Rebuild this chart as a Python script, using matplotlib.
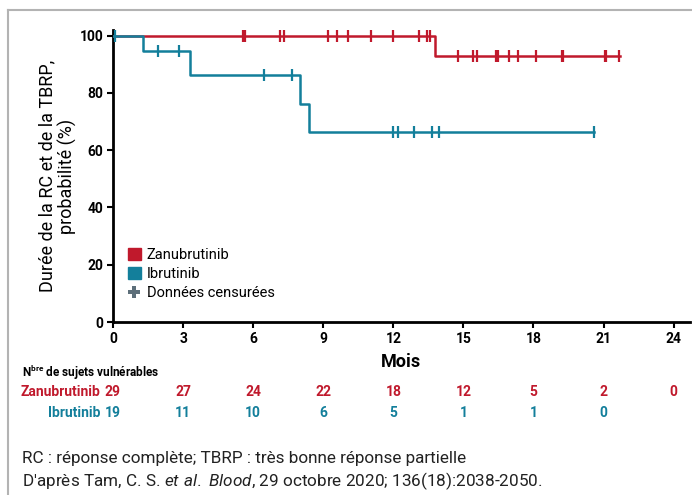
import numpy as np
import matplotlib
matplotlib.use("Agg")
import matplotlib.pyplot as plt
from matplotlib.lines import Line2D
from matplotlib.patches import Patch
from matplotlib.transforms import blended_transform_factory

plt.rcParams['font.family'] = ['Roboto', 'DejaVu Sans']
plt.rcParams['mathtext.fontset'] = 'custom'
plt.rcParams['mathtext.rm'] = 'Roboto'
plt.rcParams['mathtext.it'] = 'Roboto:italic'
plt.rcParams['mathtext.bf'] = 'Roboto:bold'

RED = '#c0192c'
TEAL = '#137f9b'
CENSOR_GREY = '#5d6f7a'

# Kaplan-Meier steps (month, probability %)
zanu_times = [0, 13.8, 21.7]
zanu_surv = [100, 93, 93]
ibru_times = [0, 1.3, 3.3, 8.0, 8.4, 20.6]
ibru_surv = [100, 94.7, 86.4, 76.1, 66.3, 66.3]

# censored observations (months)
zanu_censor = [5.55, 5.6, 5.65, 7.15, 7.3, 9.2, 9.6, 10.05, 11.05, 11.97, 13.1,
               13.45, 13.55, 14.75, 15.4, 15.57, 16.38, 16.5, 16.95, 17.33,
               18.09, 19.2, 19.27, 21.05, 21.12, 21.65]
ibru_censor = [0.1, 1.94, 2.82, 6.46, 7.67, 11.97, 12.18, 12.9, 13.65, 13.96, 20.58]

# number at risk
risk_months = [0, 3, 6, 9, 12, 15, 18, 21, 24]
zanu_risk = [29, 27, 24, 22, 18, 12, 5, 2, 0]
ibru_risk = [19, 11, 10, 6, 5, 1, 1, 0]

x_ticks = [0, 3, 6, 9, 12, 15, 18, 21, 24]
y_ticks = [0, 20, 40, 60, 80, 100]


def step_value(times, surv, t):
    idx = np.searchsorted(times, t, side='right') - 1
    return surv[idx]


fig = plt.figure(figsize=(6.92, 4.95), dpi=100)
W, H = 692, 495
ax = fig.add_axes([113 / W, 1 - 322 / H, (690 - 113) / W, (322 - 30) / H])

for times, surv, cens, col in [(zanu_times, zanu_surv, zanu_censor, RED),
                               (ibru_times, ibru_surv, ibru_censor, TEAL)]:
    ax.step(times, surv, where='post', color=col, lw=1.8, zorder=3)
    cy = [step_value(times, surv, t) for t in cens]
    ax.plot(cens, cy, ls='none', marker='|', ms=8, mew=1.6, color=col, zorder=4)

ax.set_xlim(0, 24.7)
ax.set_ylim(0, 102)
ax.set_xticks(x_ticks)
ax.set_yticks(y_ticks)
ax.tick_params(axis='both', length=4, width=1.5, labelsize=10, pad=3)
for lbl in ax.get_xticklabels() + ax.get_yticklabels():
    lbl.set_fontweight('bold')
for s in ['top', 'right']:
    ax.spines[s].set_visible(False)
for s in ['left', 'bottom']:
    ax.spines[s].set_linewidth(2)

ax.set_ylabel('Durée de la RC et de la TBRP,\nprobabilité (%)', fontsize=13, labelpad=2,
              linespacing=1.05)
ax.set_xlabel('Mois', fontsize=13, fontweight='bold', labelpad=5)

handles = [Patch(facecolor=RED, edgecolor=RED),
           Patch(facecolor=TEAL, edgecolor=TEAL),
           Line2D([], [], ls='none', marker='P', ms=9, color=CENSOR_GREY, mew=0)]
ax.legend(handles, ['Zanubrutinib', 'Ibrutinib', 'Données censurées'],
          loc='lower left', bbox_to_anchor=(0.0, 0.025), frameon=False,
          fontsize=10.5, handlelength=0.9, handleheight=0.9, handletextpad=0.4,
          labelspacing=0.35, borderaxespad=0.6)

# number at risk table
tr = blended_transform_factory(ax.transData, fig.transFigure)
fig.text(22 / W, 1 - 373 / H, r'N$^{\mathregular{bre}}$ de sujets vulnérables',
         fontsize=8.5, fontweight='bold', va='center', ha='left')
fig.text(100 / W, 1 - 392 / H, 'Zanubrutinib', color=RED, fontsize=10,
         fontweight='bold', va='center', ha='right')
fig.text(100 / W, 1 - 413 / H, 'Ibrutinib', color=TEAL, fontsize=10,
         fontweight='bold', va='center', ha='right')
for m, n in zip(risk_months, zanu_risk):
    ax.text(m, 1 - 392 / H, str(n), transform=tr, color=RED, fontsize=10,
            fontweight='bold', ha='center', va='center', clip_on=False)
for m, n in zip(risk_months, ibru_risk):
    ax.text(m, 1 - 413 / H, str(n), transform=tr, color=TEAL, fontsize=10,
            fontweight='bold', ha='center', va='center', clip_on=False)

# footnotes
fig.text(22 / W, 1 - 458 / H, 'RC : réponse complète; TBRP : très bonne réponse partielle',
         fontsize=12.3, va='center', ha='left', color='#222222')
fig.text(22 / W, 1 - 481 / H,
         "D'après Tam, C. S. $\\it{et\\ al.\\ Blood}$, 29 octobre 2020; 136(18):2038-2050.",
         fontsize=12.3, va='center', ha='left', color='#222222')

# grey frame (top and left)
fig.add_artist(Line2D([8 / W, 1], [1 - 10 / H, 1 - 10 / H], color='#b3b3b3', lw=1.5))
fig.add_artist(Line2D([8 / W, 8 / W], [1 - 10 / H, 0], color='#b3b3b3', lw=1.5))

fig.savefig('out.png', dpi=100)
